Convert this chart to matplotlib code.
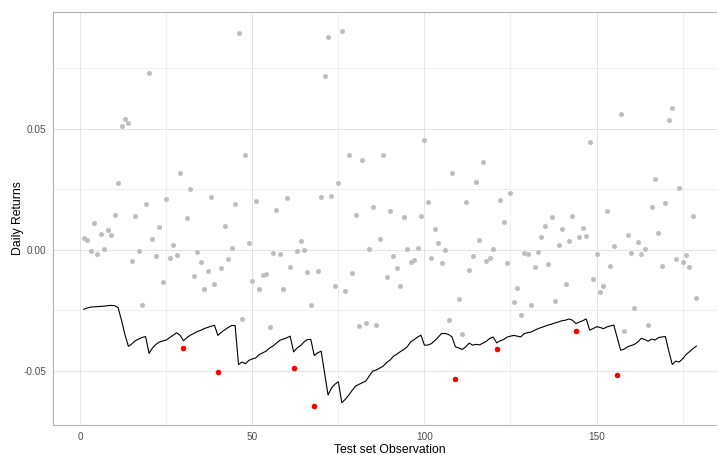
import matplotlib.pyplot as plt
from matplotlib.ticker import MultipleLocator

plt.rcParams['font.family'] = ['Liberation Sans', 'DejaVu Sans']

# daily returns of the test set, observation 1..179
returns = [
    0.0048, 0.0040, -0.0003, 0.0113, -0.0015, 0.0067, 0.0003, 0.0081, 0.0061, 0.0146,
    0.0278, 0.0511, 0.0539, 0.0523, -0.0045, 0.0139, -0.0003, -0.0226, 0.0190, 0.0729,
    0.0044, -0.0025, 0.0095, -0.0131, 0.0211, -0.0034, 0.0019, -0.0022, 0.0320, -0.0404,
    0.0132, 0.0251, -0.0106, -0.0007, -0.0048, -0.0160, -0.0085, 0.0220, -0.0140, -0.0503,
    -0.0076, 0.0100, -0.0039, 0.0010, 0.0190, 0.0898, -0.0286, 0.0391, 0.0030, -0.0127,
    0.0204, -0.0160, -0.0103, -0.0099, -0.0317, -0.0011, 0.0167, -0.0015, -0.0160, 0.0213,
    -0.0072, -0.0489, -0.0004, 0.0037, 0.0000, -0.0092, -0.0229, -0.0645, -0.0085, 0.0220,
    0.0718, 0.0881, 0.0224, -0.0150, 0.0275, 0.0905, -0.0168, 0.0391, -0.0096, 0.0146,
    -0.0313, 0.0371, -0.0300, 0.0003, 0.0179, -0.0310, 0.0047, 0.0391, -0.0113, 0.0160,
    -0.0025, -0.0076, -0.0147, 0.0135, 0.0003, -0.0048, -0.0041, 0.0010, 0.0139, 0.0456,
    0.0197, -0.0032, 0.0088, 0.0030, -0.0055, 0.0000, -0.0291, 0.0320, -0.0533, -0.0202,
    -0.0346, 0.0197, -0.0083, -0.0025, 0.0282, 0.0040, 0.0364, -0.0045, -0.0032, 0.0005,
    -0.0410, 0.0207, 0.0116, -0.0055, 0.0237, -0.0216, -0.0157, -0.0270, -0.0011, -0.0015,
    -0.0229, -0.0072, -0.0007, 0.0054, 0.0098, -0.0058, 0.0135, -0.0209, 0.0022, 0.0088,
    -0.0140, 0.0037, 0.0139, -0.0336, 0.0054, 0.0091, 0.0058, 0.0445, -0.0120, -0.0015,
    -0.0175, -0.0147, 0.0160, -0.0066, 0.0017, -0.0515, 0.0562, -0.0335, 0.0061, -0.0011,
    -0.0240, 0.0033, -0.0015, 0.0005, -0.0310, 0.0179, 0.0292, 0.0070, -0.0066, 0.0193,
    0.0537, 0.0585, -0.0039, 0.0258, -0.0048, -0.0022, -0.0069, 0.0139, -0.0198,
]

# value-at-risk forecast for the same observations
var_line = [
    -0.0245, -0.0240, -0.0236, -0.0235, -0.0234, -0.0233, -0.0232, -0.0230, -0.0229, -0.0230,
    -0.0238, -0.0290, -0.0350, -0.0398, -0.0388, -0.0375, -0.0368, -0.0361, -0.0358, -0.0427,
    -0.0405, -0.0390, -0.0380, -0.0376, -0.0372, -0.0362, -0.0352, -0.0342, -0.0352, -0.0375,
    -0.0362, -0.0352, -0.0345, -0.0337, -0.0332, -0.0325, -0.0320, -0.0315, -0.0311, -0.0353,
    -0.0340, -0.0330, -0.0320, -0.0312, -0.0312, -0.0473, -0.0463, -0.0470, -0.0456, -0.0450,
    -0.0446, -0.0432, -0.0425, -0.0418, -0.0405, -0.0397, -0.0385, -0.0373, -0.0368, -0.0363,
    -0.0356, -0.0421, -0.0405, -0.0395, -0.0380, -0.0370, -0.0370, -0.0436, -0.0425, -0.0418,
    -0.0510, -0.0599, -0.0570, -0.0555, -0.0544, -0.0631, -0.0617, -0.0600, -0.0580, -0.0562,
    -0.0555, -0.0548, -0.0541, -0.0520, -0.0500, -0.0496, -0.0488, -0.0480, -0.0465, -0.0455,
    -0.0439, -0.0430, -0.0420, -0.0411, -0.0400, -0.0380, -0.0370, -0.0360, -0.0352, -0.0393,
    -0.0393, -0.0387, -0.0375, -0.0360, -0.0345, -0.0345, -0.0349, -0.0359, -0.0400, -0.0405,
    -0.0411, -0.0400, -0.0385, -0.0393, -0.0390, -0.0392, -0.0385, -0.0377, -0.0365, -0.0360,
    -0.0384, -0.0375, -0.0370, -0.0360, -0.0356, -0.0353, -0.0356, -0.0359, -0.0345, -0.0342,
    -0.0339, -0.0332, -0.0325, -0.0320, -0.0315, -0.0310, -0.0306, -0.0301, -0.0297, -0.0292,
    -0.0290, -0.0285, -0.0290, -0.0304, -0.0298, -0.0292, -0.0285, -0.0331, -0.0325, -0.0317,
    -0.0320, -0.0325, -0.0318, -0.0314, -0.0310, -0.0362, -0.0414, -0.0410, -0.0400, -0.0395,
    -0.0390, -0.0380, -0.0365, -0.0370, -0.0377, -0.0368, -0.0372, -0.0362, -0.0359, -0.0358,
    -0.0418, -0.0473, -0.0459, -0.0463, -0.0450, -0.0432, -0.0420, -0.0408, -0.0397,
]

obs = list(range(1, len(returns) + 1))
# observations where the return fell below the forecast
breaches = [i for i, (r, v) in enumerate(zip(returns, var_line)) if r < v]
breach_x = [obs[i] for i in breaches]
breach_y = [returns[i] for i in breaches]

fig = plt.figure(figsize=(7.17, 4.55), dpi=100)
ax = fig.add_axes([53 / 717, 30 / 455, 674 / 717, 413 / 455])

ax.scatter(obs, returns, s=13, color='#BEBEBE', linewidths=0, zorder=2)
ax.plot(obs, var_line, color='black', linewidth=0.8, zorder=3)
ax.scatter(breach_x, breach_y, s=16, color='#FF0000', linewidths=0, zorder=4)

ax.set_xlim(-7.9, 187.9)
ax.set_ylim(-0.0723, 0.0983)
ax.xaxis.set_major_locator(MultipleLocator(50))
ax.xaxis.set_minor_locator(MultipleLocator(25))
ax.yaxis.set_major_locator(MultipleLocator(0.05))
ax.yaxis.set_minor_locator(MultipleLocator(0.025))
ax.set_yticks([-0.05, 0.0, 0.05])
ax.set_yticklabels(['-0.05', '0.00', '0.05'])

ax.grid(which='major', color='#E3E3E3', linewidth=0.7, zorder=0)
ax.grid(which='minor', color='#EBEBEB', linewidth=0.55, zorder=0)
ax.set_axisbelow(True)

for side in ax.spines.values():
    side.set_color('#B3B3B3')
    side.set_linewidth(0.8)

ax.tick_params(which='both', length=0, labelsize=7.2, labelcolor='#4D4D4D', pad=5)
ax.set_xlabel('Test set Observation', fontsize=8.8, labelpad=1.5)
ax.set_ylabel('Daily Returns', fontsize=8.8, labelpad=-1)

fig.savefig('out.png', dpi=100)
